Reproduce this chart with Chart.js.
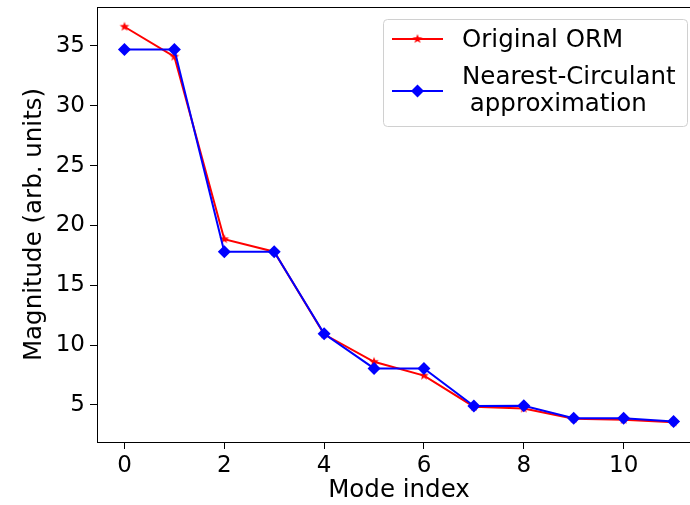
<!DOCTYPE html>
<html>
<head>
<meta charset="utf-8">
<script src="https://cdn.jsdelivr.net/npm/chart.js@4"></script>
<style>
html, body { margin: 0; padding: 0; overflow: hidden; background: #fff; }
#wrap { width: 720px; height: 505px; }
</style>
</head>
<body>
<div id="wrap"><canvas id="chart"></canvas></div>
<script>
// data
const modeIndex = [0, 1, 2, 3, 4, 5, 6, 7, 8, 9, 10, 11];
const originalOrm = [36.6, 34.1, 18.85, 17.8, 10.9, 8.6, 7.45, 4.85, 4.7, 3.85, 3.75, 3.55];
const nearestCirculant = [34.7, 34.7, 17.8, 17.8, 10.95, 8.05, 8.05, 4.9, 4.92, 3.88, 3.88, 3.62];
const xTicks = [0, 2, 4, 6, 8, 10];
const yTicks = [5, 10, 15, 20, 25, 30, 35];
const seriesLabels = ['Original ORM', 'Nearest-Circulant\n approximation'];

const FONT = 'DejaVu Sans';
const FS = 23;      // tick labels
const FS_TXT = 24.5; // axis titles and legend

// filled 5 point star like matplotlib '*'
function makeStar(color, r) {
    const c = document.createElement('canvas');
    const s = Math.ceil(r * 2 + 2);
    c.width = s; c.height = s;
    const g = c.getContext('2d');
    g.fillStyle = color;
    g.beginPath();
    for (let i = 0; i < 10; i++) {
        const rad = i % 2 === 0 ? r : r * 0.42;
        const a = -Math.PI / 2 + i * Math.PI / 5;
        const px = s / 2 + rad * Math.cos(a);
        const py = s / 2 + rad * Math.sin(a);
        if (i === 0) g.moveTo(px, py); else g.lineTo(px, py);
    }
    g.closePath();
    g.fill();
    return c;
}
const starImg = makeStar('#ff0000', 5);

const toPoints = ys => modeIndex.map((x, i) => ({ x: x, y: ys[i] }));

// box around the plot area
const framePlugin = {
    id: 'frame',
    afterDraw(chart) {
        const a = chart.chartArea, ctx = chart.ctx;
        ctx.save();
        ctx.strokeStyle = '#000';
        ctx.lineWidth = 1;
        ctx.strokeRect(Math.round(a.left) + 0.5, Math.round(a.top) + 0.5, Math.round(a.right - a.left), Math.round(a.bottom - a.top));
        ctx.restore();
    }
};

// matplotlib style legend
const legendPlugin = {
    id: 'mplLegend',
    afterDraw(chart) {
        const ctx = chart.ctx;
        const bx = 383.5, by = 19.5, bw = 304, bh = 107;
        ctx.save();
        ctx.beginPath();
        ctx.roundRect(bx, by, bw, bh, 4);
        ctx.fillStyle = 'rgba(255,255,255,0.8)';
        ctx.fill();
        ctx.strokeStyle = '#d0d0d0';
        ctx.lineWidth = 1;
        ctx.stroke();

        const rows = [39, 91];
        const baselines = [[46.5], [84.3, 110.7]];
        chart.data.datasets.forEach((ds, i) => {
            const y = rows[i];
            ctx.strokeStyle = ds.borderColor;
            ctx.lineWidth = 2;
            ctx.beginPath();
            ctx.moveTo(392, y);
            ctx.lineTo(443, y);
            ctx.stroke();
            if (ds.pointStyle === 'rectRot') {
                ctx.fillStyle = ds.backgroundColor;
                ctx.beginPath();
                ctx.moveTo(417.5 - 6.5, y);
                ctx.lineTo(417.5, y - 6.5);
                ctx.lineTo(417.5 + 6.5, y);
                ctx.lineTo(417.5, y + 6.5);
                ctx.closePath();
                ctx.fill();
            } else {
                ctx.drawImage(ds.pointStyle, 417.5 - ds.pointStyle.width / 2, y - ds.pointStyle.height / 2);
            }
            ctx.fillStyle = '#000';
            ctx.font = FS_TXT + 'px "' + FONT + '"';
            ctx.textBaseline = 'alphabetic';
            ctx.textAlign = 'left';
            ds.label.split('\n').forEach((line, k) => {
                ctx.fillText(line, 462, baselines[i][k]);
            });
        });
        ctx.restore();
    }
};

new Chart(document.getElementById('chart'), {
    type: 'line',
    data: {
        datasets: [
            {
                label: seriesLabels[0],
                data: toPoints(originalOrm),
                borderColor: '#ff0000',
                backgroundColor: '#ff0000',
                borderWidth: 2,
                pointStyle: starImg,
                pointRadius: 5,
                order: 2
            },
            {
                label: seriesLabels[1],
                data: toPoints(nearestCirculant),
                borderColor: '#0000ff',
                backgroundColor: '#0000ff',
                borderWidth: 2,
                pointStyle: 'rectRot',
                pointRadius: 6.5,
                pointBorderWidth: 0,
                order: 1
            }
        ]
    },
    options: {
        responsive: true,
        maintainAspectRatio: false,
        animation: false,
        layout: { padding: { left: 0, right: 19, top: 6, bottom: 0 } },
        plugins: { legend: { display: false }, tooltip: { enabled: false } },
        scales: {
            x: {
                type: 'linear',
                min: -0.55,
                max: 11.55,
                afterFit: s => { s.height = 63; s.paddingLeft = 0; s.paddingRight = 0; },
                afterBuildTicks: s => { s.ticks = xTicks.map(v => ({ value: v })); },
                grid: { drawOnChartArea: false, drawTicks: true, tickLength: 7, tickColor: '#000' },
                border: { display: true, color: '#000', width: 1 },
                ticks: { color: '#000', padding: 3, maxRotation: 0, font: { family: FONT, size: FS } },
                title: { display: true, text: 'Mode index', color: '#000', padding: { top: 0, bottom: 0 }, font: { family: FONT, size: FS_TXT, lineHeight: 1.2 } }
            },
            y: {
                min: 1.9,
                max: 38.25,
                afterFit: s => { s.width = 97; s.paddingTop = 0; s.paddingBottom = 0; },
                afterBuildTicks: s => { s.ticks = yTicks.map(v => ({ value: v })); },
                grid: { drawOnChartArea: false, drawTicks: true, tickLength: 7, tickColor: '#000' },
                border: { display: true, color: '#000', width: 1 },
                ticks: { color: '#000', padding: 5, font: { family: FONT, size: FS } },
                title: { display: true, text: 'Magnitude (arb. units)', color: '#000', padding: { top: 20, bottom: 0 }, font: { family: FONT, size: FS_TXT, lineHeight: 1.2 } }
            }
        }
    },
    plugins: [framePlugin, legendPlugin]
});
</script>
</body>
</html>
